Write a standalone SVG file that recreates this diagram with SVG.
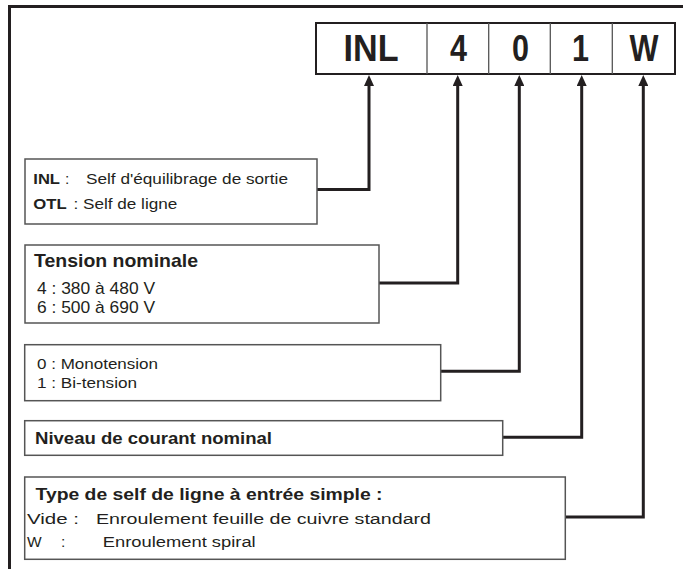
<svg xmlns="http://www.w3.org/2000/svg" width="683" height="569" viewBox="0 0 683 569">
<style>
text{font-family:"Liberation Sans",Arial,sans-serif;fill:#231f20}
.b{font-weight:bold}
.box{fill:#fff;stroke:#555;stroke-width:1.5}
.con{fill:none;stroke:#231f20;stroke-width:3;stroke-linejoin:miter}
.code{font-weight:bold;font-size:36px;text-anchor:middle}
</style>
<defs>
<marker id="ah" viewBox="0 0 11 10" refX="6" refY="5" markerWidth="11" markerHeight="10" markerUnits="userSpaceOnUse" orient="auto-start-reverse">
<path d="M0,0 L11,5 L0,10 z" fill="#231f20"/>
</marker>
</defs>
<rect width="683" height="569" fill="#fff"/>
<path d="M9.5,569 V6.5 H683" fill="none" stroke="#231f20" stroke-width="3"/>

<g id="code">
<rect x="316" y="23" width="359" height="51" fill="#fff" stroke="#231f20" stroke-width="2"/>
<path d="M427,23 V74 M488.7,23 V74 M550.3,23 V74 M612.3,23 V74" stroke="#555" stroke-width="1.3"/>
<text class="code" x="371" y="61" textLength="55" lengthAdjust="spacingAndGlyphs">INL</text>
<text class="code" x="458.5" y="61" textLength="17" lengthAdjust="spacingAndGlyphs">4</text>
<text class="code" x="520.5" y="61" textLength="17" lengthAdjust="spacingAndGlyphs">0</text>
<text class="code" x="580.5" y="61" textLength="17" lengthAdjust="spacingAndGlyphs">1</text>
<text class="code" x="644" y="61" textLength="29" lengthAdjust="spacingAndGlyphs">W</text>
</g>

<g id="connectors">
<path class="con" marker-start="url(#ah)" d="M369,80 V189.5 H317"/>
<path class="con" marker-start="url(#ah)" d="M457.7,80 V283 H379"/>
<path class="con" marker-start="url(#ah)" d="M519.3,80 V371.3 H440.7"/>
<path class="con" marker-start="url(#ah)" d="M581.7,80 V437.3 H502.7"/>
<path class="con" marker-start="url(#ah)" d="M643.3,80 V517 H565.3"/>
</g>

<g id="n-type">
<rect class="box" x="25" y="159" width="292" height="65"/>
<text class="b" x="33.3" y="184.3" font-size="15.5" textLength="26.7" lengthAdjust="spacingAndGlyphs">INL</text>
<text x="65" y="184.3" font-size="15.5">:</text>
<text x="86" y="184.3" font-size="15.5" textLength="202" lengthAdjust="spacingAndGlyphs">Self d'équilibrage de sortie</text>
<text class="b" x="33.3" y="209.3" font-size="15.5" textLength="33.4" lengthAdjust="spacingAndGlyphs">OTL</text>
<text x="73.5" y="209.3" font-size="15.5" textLength="103.8" lengthAdjust="spacingAndGlyphs">: Self de ligne</text>
</g>

<g id="n-tension">
<rect class="box" x="25" y="245" width="354" height="78"/>
<text class="b" x="34" y="266.7" font-size="17.7" textLength="164" lengthAdjust="spacingAndGlyphs">Tension nominale</text>
<text x="37" y="294" font-size="17" textLength="118" lengthAdjust="spacingAndGlyphs">4 : 380 à 480 V</text>
<text x="37" y="312.7" font-size="17" textLength="118" lengthAdjust="spacingAndGlyphs">6 : 500 à 690 V</text>
</g>

<g id="n-mono">
<rect class="box" x="24.7" y="344.7" width="416" height="56"/>
<text x="37" y="369.3" font-size="15" textLength="121" lengthAdjust="spacingAndGlyphs">0 : Monotension</text>
<text x="37" y="388.3" font-size="15" textLength="100" lengthAdjust="spacingAndGlyphs">1 : Bi-tension</text>
</g>

<g id="n-courant">
<rect class="box" x="24.7" y="420.7" width="478" height="34.6"/>
<text class="b" x="35" y="444" font-size="16" textLength="237" lengthAdjust="spacingAndGlyphs">Niveau de courant nominal</text>
</g>

<g id="n-self">
<rect class="box" x="24.7" y="477" width="540.6" height="82.3"/>
<text class="b" x="35.5" y="500" font-size="16" textLength="347" lengthAdjust="spacingAndGlyphs">Type de self de ligne à entrée simple :</text>
<text x="27" y="524.3" font-size="15.5" textLength="52" lengthAdjust="spacingAndGlyphs">Vide :</text>
<text x="96" y="524.3" font-size="15.5" textLength="335" lengthAdjust="spacingAndGlyphs">Enroulement feuille de cuivre standard</text>
<text x="27" y="546.7" font-size="15.5">W<tspan x="61">:</tspan></text>
<text x="102.7" y="546.7" font-size="15.5" textLength="153" lengthAdjust="spacingAndGlyphs">Enroulement spiral</text>
</g>
</svg>
